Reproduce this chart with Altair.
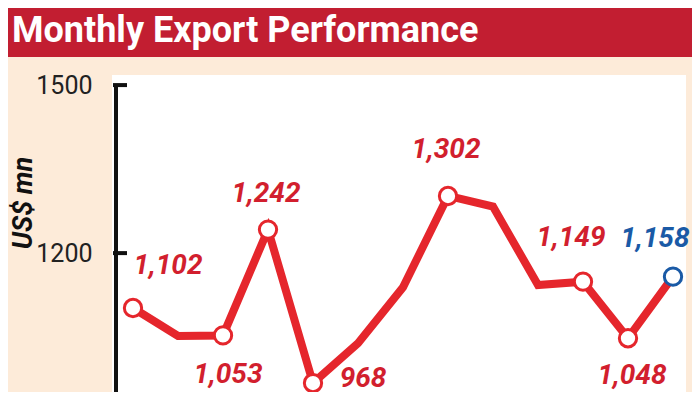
import altair as alt
import pandas as pd

# ---- data ----
months = list(range(13))
values = [1102, 1052, 1053, 1242, 968, 1039, 1139, 1302, 1283, 1143, 1149, 1048, 1158]
labelled = [0, 2, 3, 4, 7, 10, 11, 12]
y_ticks = [1200, 1500]
axis_span = [1500, 952]
title_text = ["Monthly Export Performance"]
y_title = ["US$ mn"]

# ---- styles ----
RED_BANNER = "#c21e31"
RED_LINE = "#e5262c"
RED_TEXT = "#d21f2e"
BLUE = "#1a5aa6"
BEIGE = "#fdebd9"
FONT = "Roboto"
W, H = 574, 317

label_offsets = {0: (35, -42), 2: (5, 40), 3: (-2, -36), 4: (50, -4),
                 7: (-2, -46), 10: (-12, -44), 11: (4, 38), 12: (-18, -38)}

df = pd.DataFrame({"m": months, "v": values})
xscale = alt.Scale(domain=[-21 / 45, 553 / 45], nice=False, zero=False)
yscale = alt.Scale(domain=[952, 1518], nice=False, zero=False)

X = alt.X("m:Q", scale=xscale, axis=None)

banner = alt.Chart(pd.DataFrame({"t": title_text})).mark_rect(color=RED_BANNER).encode(
    x=alt.value(-104), x2=alt.value(W + 6), y=alt.value(-67), y2=alt.value(-18))
title = alt.Chart(pd.DataFrame({"t": title_text})).mark_text(
    align="left", baseline="alphabetic", font=FONT, fontWeight="bold",
    fontSize=36, color="white").encode(x=alt.value(-100), y=alt.value(-33), text="t:N")
ytitle = alt.Chart(pd.DataFrame({"t": y_title})).mark_text(
    angle=270, align="center", baseline="middle", font=FONT, fontWeight="bold",
    fontStyle="italic", fontSize=27, color="#111").encode(
    x=alt.value(-88), y=alt.value(128), text="t:N")

axis_line = alt.Chart(pd.DataFrame({"a": [axis_span[0]], "b": [axis_span[1]]})).mark_rule(
    color="#111", strokeWidth=4).encode(
    x=alt.value(4), y=alt.Y("a:Q", scale=yscale), y2="b:Q")
ticks = alt.Chart(pd.DataFrame({"v": y_ticks})).mark_rule(color="#111", strokeWidth=4).encode(
    x=alt.value(1), x2=alt.value(15), y=alt.Y("v:Q", scale=yscale))

line = alt.Chart(df).mark_line(color=RED_LINE, strokeWidth=8).encode(
    x=X,
    y=alt.Y("v:Q", scale=yscale,
            axis=alt.Axis(values=y_ticks, title=None, domain=False, ticks=False,
                          tickSize=0, grid=False, labelFont=FONT, labelFontSize=25,
                          labelColor="#222", labelPadding=20, labelBaseline="middle",
                          format="d")))

pts_df = df[df["m"].isin(labelled)].copy()
pts_df["last"] = pts_df["m"] == months[-1]
points = alt.Chart(pts_df).mark_point(
    shape="circle", size=300, filled=False, fill="white", fillOpacity=1, strokeWidth=3,
    opacity=1).encode(
    x=X, y=alt.Y("v:Q", scale=yscale),
    stroke=alt.condition("datum.last", alt.value(BLUE), alt.value(RED_LINE)))

labels = []
for i in labelled:
    dx, dy = label_offsets[i]
    labels.append(alt.Chart(df[df["m"] == i]).mark_text(
        dx=dx, dy=dy, align="center", baseline="middle", font=FONT, fontWeight="bold",
        fontStyle="italic", fontSize=28,
        color=BLUE if i == months[-1] else RED_TEXT).encode(
        x=X, y=alt.Y("v:Q", scale=yscale), text=alt.Text("v:Q", format=",")))

chart = alt.layer(banner, title, ytitle, line, axis_line, ticks, points, *labels).properties(
    width=W, height=H,
    padding={"left": 104, "top": 67, "right": 6, "bottom": 0},
    autosize=alt.AutoSizeParams(type="none"),
    background=BEIGE,
).configure_view(fill="white", stroke=None)

chart.save("out.html", embed_options={"renderer": "svg", "actions": False})
